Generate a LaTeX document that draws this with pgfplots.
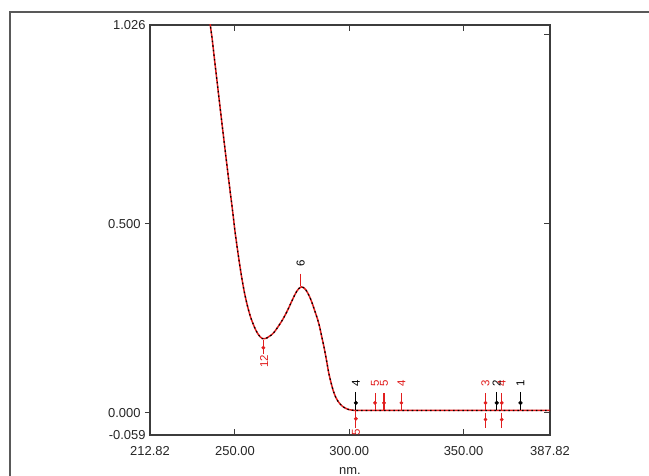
\documentclass[border=0pt]{standalone}
\usepackage{fontspec}
\setmainfont{Liberation Sans}
\usepackage{pgfplots}
\usepackage{pgfplotstable}
\pgfplotsset{compat=1.18}
\definecolor{specred}{RGB}{225,30,30}
\definecolor{axgray}{RGB}{60,60,60}

\pgfplotstableread{
x y
238.8 1.045
239.5 1.012
240 0.990
241 0.937
242 0.885
243 0.833
244 0.781
245 0.730
246 0.679
247 0.629
248 0.580
249 0.532
250 0.480
251 0.436
252 0.394
253 0.356
254 0.322
255 0.294
256 0.270
257 0.250
258 0.234
259 0.220
260 0.209
261 0.201
262 0.196
263 0.196
264 0.198
265 0.202
266 0.206
267 0.212
268 0.220
269 0.229
270 0.238
271 0.248
272 0.259
273 0.271
274 0.284
275 0.297
276 0.310
277 0.321
278 0.329
279 0.333
280 0.331
281 0.325
282 0.315
283 0.302
284 0.286
285 0.268
286 0.250
287 0.228
288 0.200
289 0.172
290 0.140
291 0.106
292 0.080
293 0.058
294 0.042
295 0.031
296 0.023
297 0.017
298 0.013
299 0.010
300 0.008
301 0.007
303 0.006
310 0.006
320 0.006
330 0.006
340 0.006
350 0.006
360 0.006
370 0.006
380 0.006
387.82 0.006
}\spectrum

% marker lines: start point and vertical length
\pgfplotstableread{
x y v
311.3 0.052 -0.044
315.2 0.052 -0.044
322.8 0.052 -0.044
359.6 0.052 -0.044
366.7 0.052 -0.044
302.9 0.006 -0.046
359.6 0.000 -0.040
366.7 0.000 -0.040
262.4 0.192 -0.036
278.7 0.368 -0.032
}\redmarks
\pgfplotstableread{
x y v
302.9 0.055 -0.047
364.5 0.055 -0.047
374.9 0.055 -0.047
}\blackmarks
\pgfplotstableread{
x y
311.3 0.026
315.2 0.026
322.8 0.026
359.6 0.026
366.7 0.026
302.9 -0.016
359.6 -0.018
366.7 -0.018
262.4 0.172
}\reddots
\pgfplotstableread{
x y
302.9 0.026
364.5 0.026
374.9 0.026
}\blackdots
\pgfplotstableread{
x y lab
311.3 0.078 5
315.2 0.078 5
322.8 0.078 4
359.6 0.078 3
366.7 0.078 4
262.8 0.136 12
302.9 -0.051 5
}\redlabels
\pgfplotstableread{
x y lab
302.9 0.078 4
364.5 0.078 2
374.9 0.078 1
278.7 0.395 6
}\blacklabels

\begin{document}
\begin{tikzpicture}
\useasboundingbox (-150bp,-41bp) rectangle (499bp,435bp);
\fill[white] (-150bp,-41bp) rectangle (499bp,435bp);
\draw[line width=1.6bp, black!65] (-140bp,-45bp) -- (-140bp,423bp) -- (505bp,423bp);

% left-side ticks and labels (outward)
\begin{axis}[
  at={(0,0)}, anchor=south west, scale only axis,
  width=400bp, height=410bp,
  xmin=212.82, xmax=387.82, ymin=-0.059, ymax=1.026,
  axis line style={draw=none},
  xtick=\empty,
  ytick={0,0.5}, yticklabels={0.000,0.500},
  extra y ticks={-0.059,1.026}, extra y tick labels={-0.059,1.026},
  extra y tick style={major tick length=0pt},
  ytick pos=left, tick align=outside,
  major tick length=5bp,
  tick style={axgray, line width=1bp},
  yticklabel style={font=\fontsize{13}{15}\selectfont, text=black!85, xshift=-1bp},
]
\end{axis}

\begin{axis}[
  at={(0,0)}, anchor=south west, scale only axis,
  width=400bp, height=410bp,
  xmin=212.82, xmax=387.82, ymin=-0.059, ymax=1.026,
  axis line style={draw=axgray, line width=1.3bp},
  tick align=inside, xtick pos=both, xticklabel pos=bottom,
  ytick pos=right, yticklabel pos=right,
  xtick={212.82,250,300,350,387.82},
  xticklabels={212.82,250.00,300.00,350.00,387.82},
  ytick={0,0.5,1}, yticklabels={},
  major tick length=6bp,
  tick style={axgray, line width=1bp},
  xticklabel style={font=\fontsize{13}{15}\selectfont, text=black!85, yshift=-8bp},
  xlabel={nm.},
  xlabel style={font=\fontsize{13}{15}\selectfont, text=black!85, yshift=-5bp},
  clip=true,
]
\addplot[specred, line width=1.5bp, smooth, tension=0.4] table[x=x,y=y] {\spectrum};
\addplot[black, line width=1.2bp, smooth, tension=0.4, dash pattern=on 1.6bp off 3bp] table[x=x,y=y] {\spectrum};

\addplot[specred, line width=1.1bp, quiver={u=0, v=\thisrow{v}}] table[x=x,y=y] {\redmarks};
\addplot[black, line width=1.1bp, quiver={u=0, v=\thisrow{v}}] table[x=x,y=y] {\blackmarks};
\addplot[only marks, mark=*, mark size=1.7bp, specred] table[x=x,y=y] {\reddots};
\addplot[only marks, mark=*, mark size=1.9bp, black] table[x=x,y=y] {\blackdots};

\addplot[draw=none, mark=none, point meta=explicit symbolic,
  nodes near coords, nodes near coords align=center,
  every node near coord/.append style={rotate=90, text=specred, font=\fontsize{11.5}{12}\selectfont, inner sep=0pt}]
  table[x=x,y=y,meta=lab] {\redlabels};
\addplot[draw=none, mark=none, point meta=explicit symbolic,
  nodes near coords, nodes near coords align=center,
  every node near coord/.append style={rotate=90, text=black, font=\fontsize{11.5}{12}\selectfont, inner sep=0pt}]
  table[x=x,y=y,meta=lab] {\blacklabels};
\end{axis}
\end{tikzpicture}
\end{document}
